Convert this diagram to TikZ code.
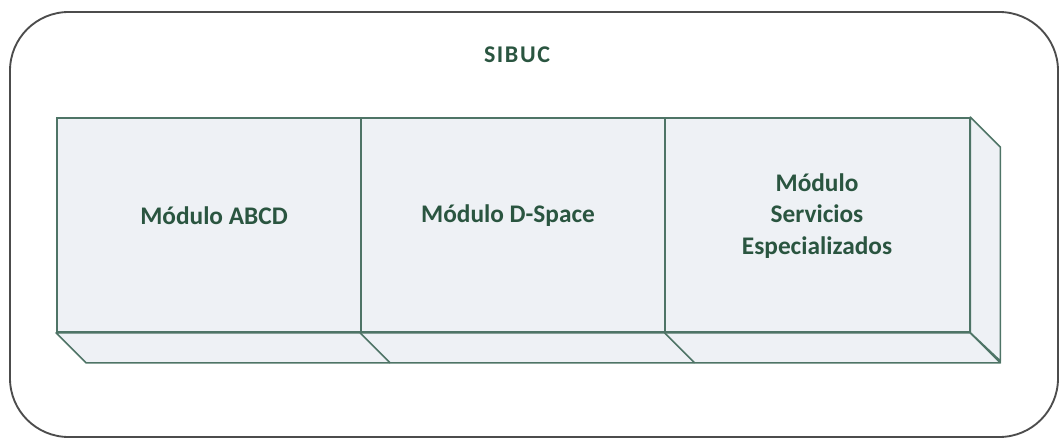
\documentclass[tikz,border=0pt]{standalone}
\usepackage{fontspec}
\setmainfont{Carlito}
\usetikzlibrary{calc}
\definecolor{modgreen}{HTML}{2A5540}
\definecolor{modline}{HTML}{4E7466}
\definecolor{modfill}{HTML}{EEF1F5}
\tikzset{
  modbox/.style={draw=modline, fill=modfill, line width=1.3pt, minimum width=228pt, minimum height=160.5pt, inner sep=0pt},
  modface/.style={draw=modline, fill=modfill, line width=1.3pt, line join=round},
  modtext/.style={text=modgreen, font=\fontsize{19}{23.5}\selectfont\bfseries, align=center}
}
\begin{document}
\begin{tikzpicture}[x=0.75pt,y=-0.75pt]
\useasboundingbox (0,0) rectangle (1060,443);
\draw[rounded corners=44pt, gray!60!black, line width=1.4pt] (10,12) rectangle (1058,437);
\node[modtext, font=\fontsize{18}{22}\selectfont\bfseries] (sibuc) at (517,55) {S\kern1.2ptI\kern1.2ptB\kern1.2ptU\kern1.2ptC};
% front faces
\node[modbox] (abcd) at (209,225) {};
\node[modbox] (dspace) at (513,225) {};
\node[modbox] (serv) at (817.5,225) {};
% depth
\draw[modface] (abcd.south west) -- ++(30,30) -- ($(serv.south east)+(30,30)$) -- (serv.south east) -- cycle;
\draw[modface] (serv.north east) -- ++(30,30) -- ++(0,214) -- (serv.south east) -- cycle;
\draw[modline, line width=1.3pt] (dspace.south west) -- ++(30,30);
\draw[modline, line width=1.3pt] (serv.south west) -- ++(30,30);
% labels
\node[modtext] (labcd) at (214,216) {Módulo ABCD};
\node[modtext] (ldspace) at (508,216) {Módulo D-Space};
\node[modtext] (lserv) at (817,216) {Módulo\\Servicios\\Especializados};
\end{tikzpicture}
\end{document}
